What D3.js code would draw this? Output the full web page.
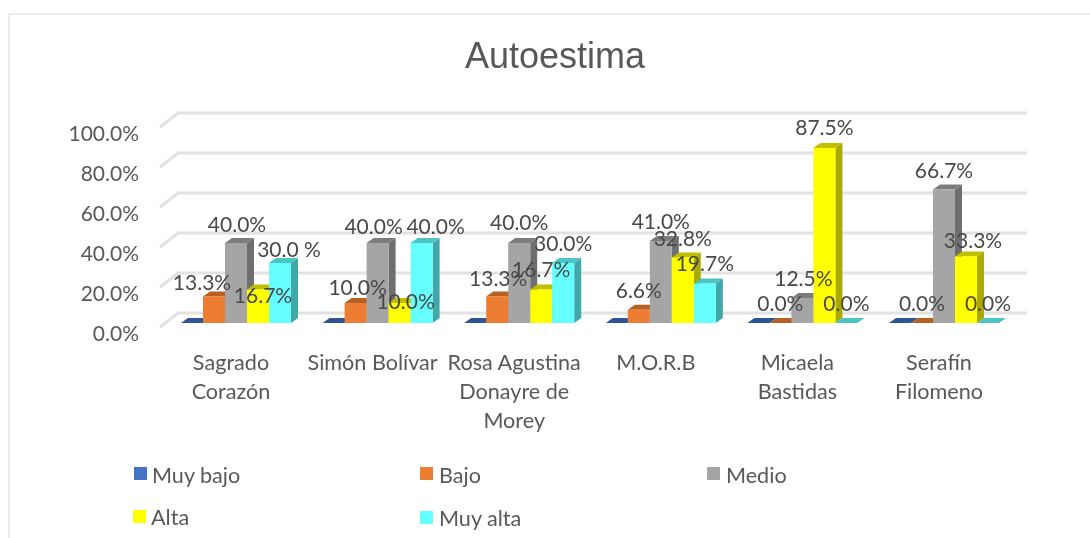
<!DOCTYPE html>
<html><head><meta charset="utf-8">
<script src="https://cdn.jsdelivr.net/npm/d3@7"></script>
<style>html,body{margin:0;padding:0;background:#fff}svg{display:block}text{font-family:Lato,"Open Sans",sans-serif}</style>
</head><body><svg id="c" width="1090" height="538"></svg>
<script>
const categories = [["Sagrado","Corazón"],["Simón Bolívar"],["Rosa Agustina","Donayre de","Morey"],["M.O.R.B"],["Micaela","Bastidas"],["Serafín","Filomeno"]];
const seriesNames = ["Muy bajo","Bajo","Medio","Alta","Muy alta"];
const muyBajo = [0,0,0,0,0,0];
const bajo = [13.3,10,13.3,6.6,0,0];
const medio = [40,40,40,41,12.5,66.7];
const alta = [16.7,10,16.7,32.8,87.5,33.3];
const muyAlta = [30,40,30,19.7,0,0];
const yTicks = [0,20,40,60,80,100];
const seriesValues = [muyBajo,bajo,medio,alta,muyAlta];

// styling and layout
const palette = [
 {f:"#4472c4",t:"#2f5597",s:"#2f5597"},
 {f:"#ed7d31",t:"#b85f23",s:"#a85a22"},
 {f:"#a5a5a5",t:"#7c7c7c",s:"#6e6e6e"},
 {f:"#ffff00",t:"#bfbf00",s:"#aaaa00"},
 {f:"#66ffff",t:"#4cc4c4",s:"#3fa8a8"}];
const depth = {x:7,y:5};
const wall = {x:18,y:10,left:160,right:1027};
// hand-placed label offsets from the bar's top centre [series][category] -> [dx,dy]; null = no label
const labelNudge = [
 [null,null,null,null,null,null],
 [[-12,-12],[2,-13],[1,-16],[0,-17],[0,-17],[0,-17]],
 [[1,-16],[-4,-14],[0,-18],[0,-17],[1,-17],[0,-17]],
 [[5,8],[6,1],[0,-18],[0,-17],[0,-18],[7,-14]],
 [[9,-11],[14,-14],[0,-17],[0,-18],[0,-17],[0,-17]]
];
const labelSpacing = {"4,0":" %"};

const svg = d3.select("#c");
const defs = svg.append("defs");
defs.append("filter").attr("id","soft").attr("x",0).attr("y",0).attr("width","100%").attr("height","100%")
 .append("feGaussianBlur").attr("stdDeviation",0.45);
const root = svg.append("g").attr("filter","url(#soft)");
root.append("rect").attr("width",1090).attr("height",538).attr("fill","#fff");
root.append("rect").attr("x",9).attr("y",14).attr("width",1100).attr("height",540).attr("fill","#fff").attr("stroke","#e6e6e6").attr("stroke-width",1.5);

const y = d3.scaleLinear().domain([0,100]).range([323,123]);
const x0 = d3.scaleBand().domain(d3.range(categories.length)).range([181,999]).paddingInner(0.223).paddingOuter(0);
const x1 = d3.scaleBand().domain(d3.range(seriesNames.length)).range([0,x0.bandwidth()]);

// gridlines
const grid = root.append("g").attr("fill","none").attr("stroke","#e2e2e2").attr("stroke-width",3);
grid.selectAll("path").data(yTicks).join("path")
 .attr("d",v=>{const b=y(v)-wall.y;return `M${wall.left},${b+14}L${wall.left+wall.x},${b}L${wall.right},${b}`;});

// y axis
const axis = d3.axisLeft(y).tickValues(yTicks).tickSize(0).tickPadding(0).tickFormat(v=>d3.format(".1f")(v)+"%");
const ag = root.append("g").attr("transform","translate(139,10.5)").call(axis);
ag.select(".domain").remove();
ag.selectAll("text").attr("fill","#595959").style("font-size","21px").style("font-family","Lato");

// bars
const groups = root.append("g").selectAll("g").data(categories).join("g")
 .attr("transform",(d,i)=>`translate(${x0(i)},0)`);
seriesNames.forEach((name,si)=>{
 const c = palette[si], w = x1.bandwidth(), xx = x1(si);
 const bar = groups.append("g");
 bar.append("path").attr("fill",c.s)
  .attr("d",(d,i)=>{const t=y(seriesValues[si][i]),b=y(0);return `M${xx+w},${t}L${xx+w+depth.x},${t-depth.y}L${xx+w+depth.x},${b-depth.y}L${xx+w},${b}Z`;});
 bar.append("path").attr("fill",c.t)
  .attr("d",(d,i)=>{const t=y(seriesValues[si][i]);return `M${xx},${t}L${xx+depth.x},${t-depth.y}L${xx+w+depth.x},${t-depth.y}L${xx+w},${t}Z`;});
 bar.append("rect").attr("fill",c.f).attr("x",xx).attr("width",w)
  .attr("y",(d,i)=>y(seriesValues[si][i]))
  .attr("height",(d,i)=>y(0)-y(seriesValues[si][i]));
});

// data labels
const labelLayer = root.append("g");
seriesNames.forEach((name,si)=>{
 categories.forEach((cat,i)=>{
  const n = labelNudge[si][i];
  if(!n) return;
  const v = seriesValues[si][i];
  labelLayer.append("text")
   .attr("text-anchor","middle").attr("fill","#484848").style("font-size","21px")
   .attr("dominant-baseline","middle")
   .attr("x",x0(i)+x1(si)+x1.bandwidth()/2+n[0])
   .attr("y",y(v)+n[1])
   .text(d3.format(".1f")(v)+(labelSpacing[si+","+i]||"%"));
 });
});

// category labels
groups.each(function(lines,i){
 const t=d3.select(this).append("text").attr("text-anchor","middle").attr("fill","#595959").style("font-size","21.6px");
 lines.forEach((l,k)=>t.append("tspan").attr("x",x0.bandwidth()/2-5).attr("y",370+k*29).text(l));
});

// title
root.append("text").attr("x",555).attr("y",68).attr("text-anchor","middle").attr("fill","#595959")
 .style("font-family","'Liberation Sans',Arial,sans-serif").style("font-size","36px").text("Autoestima");

// legend
const legendPos = [[134,467],[420,467],[707,467],[133,510],[420,511]];
const legendTextY = [16,16,16,15,15];
const lg = root.append("g").selectAll("g").data(seriesNames).join("g").attr("transform",(d,i)=>`translate(${legendPos[i]})`);
lg.append("rect").attr("width",13).attr("height",13).attr("fill",(d,i)=>palette[i].f);
lg.append("text").attr("x",(d,i)=>i%3===0&&i<4?18:19).attr("y",(d,i)=>legendTextY[i]).attr("fill","#595959").style("font-size","21.6px").text(d=>d);
</script></body></html>
